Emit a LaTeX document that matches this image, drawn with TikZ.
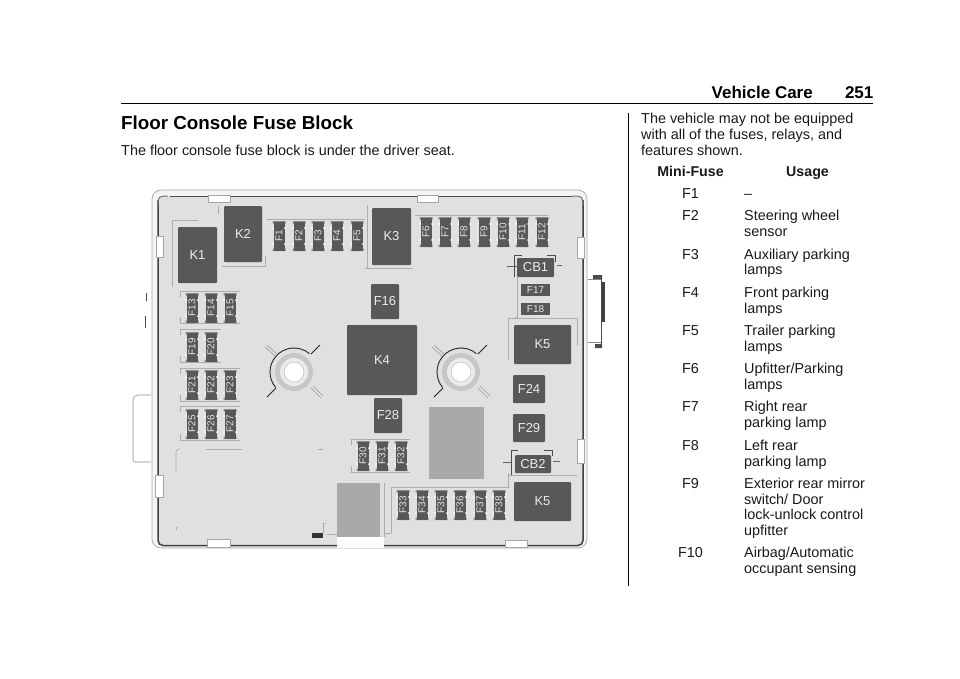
\documentclass[tikz,border=0pt]{standalone}
\usepackage{fontspec}
\setmainfont{Liberation Sans}
\usetikzlibrary{calc}
\definecolor{fondboite}{HTML}{E0E0E0}
\definecolor{sombre}{HTML}{585858}
\definecolor{bloc}{HTML}{A9A9A9}
\tikzset{
    relais/.style={fill=sombre,text=white!92!black,rounded corners=1pt,inner sep=0pt,font=\fontsize{13}{13}\selectfont},
    fusible/.style={fill=sombre,text=white!90!black,inner sep=0pt,font=\fontsize{10}{10}\selectfont},
    filet/.style={draw=black!32,line width=0.6pt},
    texte/.style={anchor=base west,inner sep=0pt,font=\fontsize{14.4}{14.4}\selectfont,text=black!90},
    gras/.style={font=\fontsize{14.2}{14.2}\bfseries\selectfont},
    entete/.style={font=\fontsize{17}{17}\bfseries\selectfont,text=black},
  }
\begin{document}
\begin{tikzpicture}[x=1pt,y=-1pt]
	\useasboundingbox (0,0) rectangle (960,678);
	%entete
	\node[texte,entete] (vehicle) at (711.5,98) {Vehicle Care};
	\node[texte,entete] (page) at (844.8,98) {251};
	\coordinate(RG) at (121,103.5);
	\coordinate(RD) at (873,103.5);
	\draw[line width=1pt] (RG) -- (RD);
	\coordinate(VH) at (628,113);
	\coordinate(VB) at (628,586);
	\draw[line width=0.8pt] (VH) -- (VB);
	\node[texte,font=\fontsize{18.8}{18.8}\bfseries\selectfont,text=black] (titre) at (121,129) {Floor Console Fuse Block};
	\node[texte] (soustitre) at (121,155) {The floor console fuse block is under the driver seat.};
	%boitier
	\draw[draw=black!35,fill=white!96!black,line width=0.7pt,rounded corners=9pt] (152,190) rectangle (587,548);
	\fill[fondboite,rounded corners=5pt] (158,196) rectangle (583,545.5);
	\draw[black!70,line width=0.7pt] (170,196) -- (572,196);
	\draw[black!75,line width=1.5pt,rounded corners=5pt] (158,200) -- (158,545.5) -- (583,545.5) -- (583,200);
	\draw[black!55,line width=1pt,rounded corners=5pt] (158,205) -- (158,196) -- (168,196) (572,196) -- (583,196) -- (583,205);
	%languettes
	\foreach \x/\y/\X/\Y in {208/195/230/202,417/195/438/202,207/539/230/547,505/540/527/547,156/236/163/257,155/475/163/497,577/237/584/258,577/439/584/463}
		\draw[black!35,fill=white,line width=0.6pt] (\x,\y) rectangle (\X,\Y);
	%blocs gris
	\fill[bloc] (429,407) rectangle (484,479);
	\fill[bloc] (337,483) rectangle (380,537);
	\fill[white] (337,537) rectangle (384,548);
	\fill[black!80] (312,533) rectangle (323,538);
	\draw[filet] (323,533) -- (323,523) -- (326,523) (327,534) -- (337,534);
	%attaches
	\draw[black!45,fill=white,line width=0.6pt,rounded corners=2pt] (151,395) -- (136,395) -- (133,398) -- (133,462) -- (151,462);
	\draw[black!45,line width=0.6pt] (588,279) -- (601,279) (588,342) -- (601,342);
	\draw[black!70,line width=1pt] (601,279) -- (601,344);
	\draw[black!75,line width=2.5pt] (603.5,282) -- (603.5,322);
	\fill[black!70] (593,275) rectangle (602,279) (595,344) rectangle (602,348);
	\draw[black!70,line width=1pt] (146,293) -- (146,301) (145,316) -- (145,328);
	%filets
	\foreach \x/\y/\X/\Y in {180/291/240/323,180/329/221/362,180/368/240/401,180/406/240/440,351/439/410/472}{
		\draw[filet] (\x,\y+6) -- (\x,\y) -- (\X,\y);
		\draw[filet] (\x,\Y-6) -- (\x,\Y) -- (\X,\Y);
	}
	\draw[filet] (267,219) -- (365,219) (415,215) -- (548,215);
	\draw[filet] (172,287) -- (172,220) -- (198,220);
	\draw[filet] (218,206) -- (218,214) (222,266) -- (265,266) -- (265,256);
	\draw[filet] (365,268) -- (412,268) (367,205) -- (367,268);
	\draw[filet] (517,277) -- (517,317) -- (515,317);
	\draw[filet] (508,360) -- (508,318) -- (577,318) -- (577,345);
	\draw[filet] (391,533) -- (391,487) -- (508,487) -- (508,473);
	\draw[filet] (508,475) -- (577,475);
	\draw[filet] (391,533) -- (384,533) (384,483) -- (384,537);
	\draw[filet,rounded corners=3pt] (176,472) -- (176,449) -- (180,449);
	\draw[filet] (206,449) -- (242,449) (318,449) -- (323,449) (176,527) -- (176,530);
	%fusibles
	\foreach \nom/\x/\y in {F1/279/236,F2/299/236,F3/318/236,F4/337/236,F5/357/236,F6/426/232,F7/445/232,F8/464/232,F9/484/232,F10/503/232,F11/522/232,F12/542/232,F13/192/308,F14/211/308,F15/230/308,F19/192/347,F20/211/347,F21/192/385,F22/211/385,F23/230/385,F25/192/424,F26/211/424,F27/230/424,F30/363/456,F31/382/456,F32/401/456,F33/403/505,F34/422/505,F35/441/505,F36/460/505,F37/480/505,F38/499/505}{
		\fill[black!45] ({\x-6.5},\y-15) rectangle ({\x+6.5},\y-12.5) ({\x-6.5},\y+12.5) rectangle ({\x+6.5},\y+15);
		\node[fusible,minimum width=29pt,minimum height=11pt,rotate=90] (\nom) at (\x,\y) {\nom};
		\fill[white] ({\x-6},\y-8) circle (1pt) ({\x-6},\y+8) circle (1pt) ({\x+6},\y-8) circle (1pt) ({\x+6},\y+8) circle (1pt);
	}
	%fusibles couches
	\node[fusible,minimum width=29pt,minimum height=12pt] (F17) at (535.5,290) {F17};
	\node[fusible,minimum width=29pt,minimum height=12pt] (F18) at (535.5,309) {F18};
	%relais
	\foreach \nom/\x/\y/\X/\Y/\txt in {K1/178/227/217/283/K1,K2/224/206/262/262/K2,K3/372/208/411/265/K3,K4/347/325/417/395/K4,K5h/514/325/571/364/K5,K5b/514/482/571/521/K5,F16/371/284/399/319/F16,F28/374/398/402/433/F28,F24/513/375/545/403/F24,F29/513/414/545/442/F29,CB1/517/258/554/277/CB1,CB2/515/455/551/473/CB2}
		\node[relais,minimum width={(\X-\x)*1pt},minimum height={(\Y-\y)*1pt}] (\nom) at ({(\x+\X)/2},{(\y+\Y)/2}) {\txt};
	%disjoncteurs
	\draw[black!60,line width=0.9pt] (507,266) -- (517,266) (557,265) -- (562,265);
	\draw[black!70,line width=0.7pt] (522,255) -- (514,255) -- (514,277) (547,255) -- (555,255) -- (555,262);
	\draw[black!60,line width=0.9pt] (503,462) -- (511,462) (553,461) -- (560,461);
	\draw[black!70,line width=0.7pt] (518,450) -- (511,450) -- (511,475) (544,450) -- (552,450) -- (552,456);
	%goujons
	\foreach \nom/\x in {gauche/294,droite/461}{
		\fill[black!22] (\x,372) circle (19pt);
		\fill[black!8] (\x,372) circle (14pt);
		\draw[draw=black!30,fill=white] (\x,372) circle (10pt);
		\draw[black!85,line width=0.9pt] ({\x+24*cos(50)},{372-24*sin(50)}) arc[start angle=50,end angle=220,radius=24pt];
		\draw[black!40,line width=0.6pt] (\x-17,354) -- (\x-27,345) (\x-19,356) -- (\x-29,347);
		\draw[black!85,line width=0.9pt] (\x+17,354) -- (\x+26,345);
		\draw[black!85,line width=0.9pt] (\x-18,388) -- (\x-27,397);
		\draw[black!40,line width=0.6pt] (\x+17,388) -- (\x+27,398) (\x+19,386) -- (\x+29,396);
	}
	%colonne droite
	\node[texte] (t1) at (641,123) {The vehicle may not be equipped};
	\node[texte] (t2) at (641,139) {with all of the fuses, relays, and};
	\node[texte] (t3) at (641,155) {features shown.};
	\node[texte,gras,anchor=base] (minifuse) at (690.5,176) {Mini-Fuse};
	\node[texte,gras] (usage) at (786,176) {Usage};
	\foreach \nom/\y in {F1/198,F2/220,F3/259,F4/297,F5/335,F6/373,F7/411,F8/450,F9/488,F10/557}
		\node[texte,anchor=base] (l\nom) at (690.5,\y) {\nom};
	\foreach \ligne/\y in {–/198,Steering wheel/220,sensor/236,Auxiliary parking/259,lamps/274,Front parking/297,lamps/313,Trailer parking/335,lamps/351,{Upfitter/Parking}/373,lamps/389,Right rear/411,parking lamp/427,Left rear/450,parking lamp/466,Exterior rear mirror/488,{switch/ Door}/504,lock-unlock control/519,upfitter/535,{Airbag/Automatic}/557,occupant sensing/573}
		\node[texte] at (744,\y) {\ligne};
\end{tikzpicture}
\end{document}
